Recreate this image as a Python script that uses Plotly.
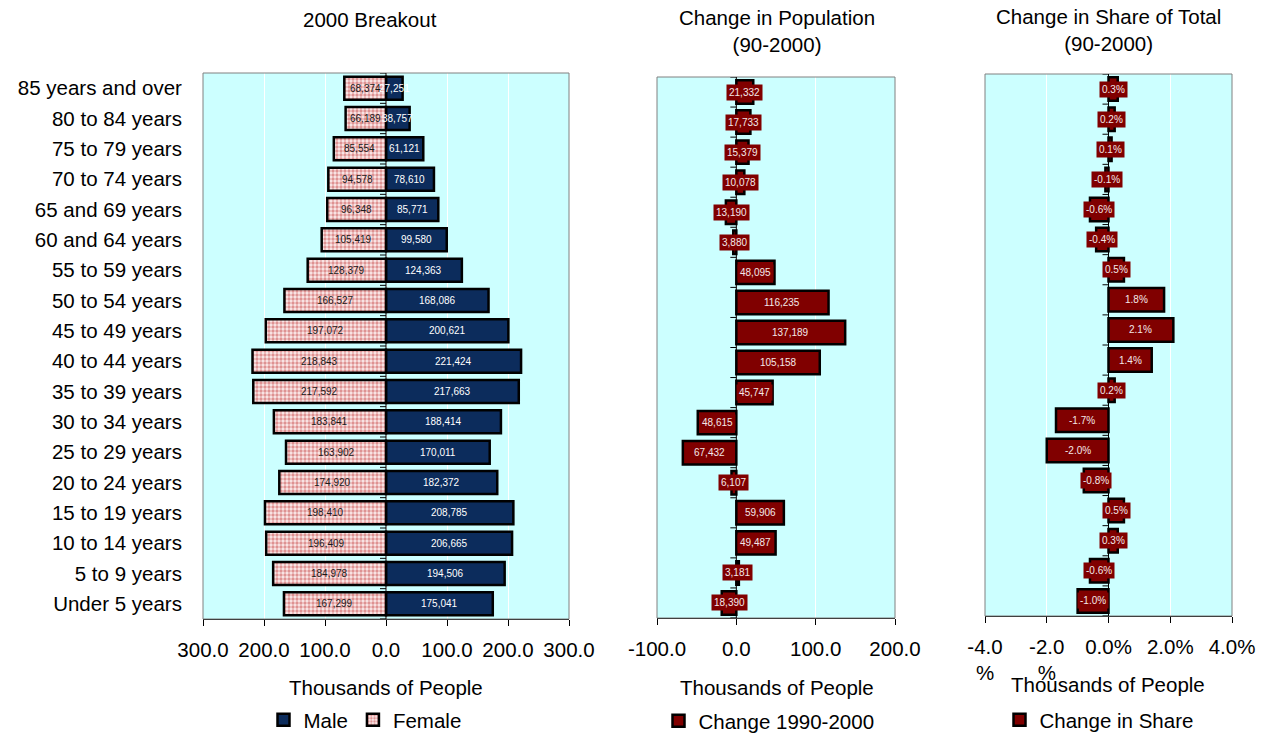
import plotly.graph_objects as go

# Age groups, bottom to top
age_groups = ["Under 5 years", "5 to 9 years", "10 to 14 years", "15 to 19 years",
              "20 to 24 years", "25 to 29 years", "30 to 34 years", "35 to 39 years",
              "40 to 44 years", "45 to 49 years", "50 to 54 years", "55 to 59 years",
              "60 and 64 years", "65 and 69 years", "70 to 74 years", "75 to 79 years",
              "80 to 84 years", "85 years and over"]

male_2000 = [175041, 194506, 206665, 208785, 182372, 170011, 188414, 217663, 221424,
             200621, 168086, 124363, 99580, 85771, 78610, 61121, 38757, 27251]
female_2000 = [167299, 184978, 196409, 198410, 174920, 163902, 183841, 217592, 218843,
               197072, 166527, 128379, 105419, 96348, 94578, 85554, 66189, 68374]
change_90_00 = [-18390, 3181, 49487, 59906, -6107, -67432, -48615, 45747, 105158,
                137189, 116235, 48095, -3880, -13190, 10078, 15379, 17733, 21332]
share_change = [-1.0, -0.6, 0.3, 0.5, -0.8, -2.0, -1.7, 0.2, 1.4,
                2.1, 1.8, 0.5, -0.4, -0.6, -0.1, 0.1, 0.2, 0.3]

pop_ticks = [-300, -200, -100, 0, 100, 200, 300]
pop_ticktext = ["300.0", "200.0", "100.0", "0.0", "100.0", "200.0", "300.0"]
chg_ticks = [-100, 0, 100, 200]
chg_ticktext = ["-100.0", "0.0", "100.0", "200.0"]
shr_ticks = [-4, -2, 0, 2, 4]
shr_ticktext = ["-4.0<br>%", "-2.0<br>%", "0.0%", "2.0%", "4.0%"]

W, H = 1262, 733
FONT = "Arial, Liberation Sans, sans-serif"
BIG = 20.5
BG = "#ccffff"
NAVY = "#0c2c5c"
MAROON = "#800000"


def px_x(p):
    return p / W


def px_y(p):
    return 1 - p / H


fig = go.Figure()

male_k = [v / 1000 for v in male_2000]
female_k = [-v / 1000 for v in female_2000]
change_k = [v / 1000 for v in change_90_00]

fig.add_trace(go.Bar(
    x=male_k, y=age_groups, orientation="h", name="Male", width=0.76,
    marker=dict(color=NAVY, line=dict(color="black", width=2.5)),
    xaxis="x", yaxis="y", legend="legend", hoverinfo="skip"))
fig.add_trace(go.Bar(
    x=female_k, y=age_groups, orientation="h", name="Female", width=0.76,
    marker=dict(color="#f8e6e6", line=dict(color="black", width=2.5),
                pattern=dict(shape=".", fgcolor="#c23a3a", bgcolor="#fbeaea",
                             size=4, solidity=0.55)),
    xaxis="x", yaxis="y", legend="legend", hoverinfo="skip"))
fig.add_trace(go.Bar(
    x=change_k, y=age_groups, orientation="h", name="Change 1990-2000", width=0.78,
    marker=dict(color=MAROON, line=dict(color="black", width=2.5)),
    xaxis="x2", yaxis="y2", legend="legend2", hoverinfo="skip"))
fig.add_trace(go.Bar(
    x=share_change, y=age_groups, orientation="h", name="Change in Share", width=0.78,
    marker=dict(color=MAROON, line=dict(color="black", width=2.5)),
    xaxis="x3", yaxis="y3", legend="legend3", hoverinfo="skip"))

annotations = []
# value labels inside the bars
for cat, m in zip(age_groups, male_2000):
    annotations.append(dict(x=m / 2000, y=cat, xref="x", yref="y", text=f"{m:,}",
                            showarrow=False, font=dict(family=FONT, size=10, color="white")))
for cat, f in zip(age_groups, female_2000):
    annotations.append(dict(x=-f / 2000, y=cat, xref="x", yref="y", text=f"{f:,}",
                            showarrow=False, font=dict(family=FONT, size=10, color="#1a1a1a")))
for cat, c in zip(age_groups, change_90_00):
    annotations.append(dict(x=c / 2000, y=cat, xref="x2", yref="y2", text=f"{abs(c):,}",
                            showarrow=False, bgcolor=MAROON, borderpad=2,
                            font=dict(family=FONT, size=10, color="#f4e8e8")))
for cat, s in zip(age_groups, share_change):
    annotations.append(dict(x=s / 2, y=cat, xref="x3", yref="y3", text=f"{s:.1f}%",
                            showarrow=False, bgcolor=MAROON, borderpad=2,
                            font=dict(family=FONT, size=10, color="#f4e8e8")))


# panel titles and axis titles
def paper_text(text, xp, yp):
    return dict(x=px_x(xp), y=px_y(yp), xref="paper", yref="paper", text=text,
                showarrow=False, xanchor="center", yanchor="middle",
                font=dict(family=FONT, size=BIG, color="black"))


annotations += [
    paper_text("2000 Breakout", 370, 20),
    paper_text("Change in Population<br>(90-2000)", 777, 31),
    paper_text("Change in Share of Total<br>(90-2000)", 1108, 30),
    paper_text("Thousands of People", 386, 687),
    paper_text("Thousands of People", 777, 687),
    paper_text("Thousands of People", 1108, 684),
]

shapes = []
for xa, ya in [("x", "y"), ("x2", "y2"), ("x3", "y3")]:
    # plot-area frame
    shapes.append(dict(type="rect", xref=f"{xa} domain", yref=f"{ya} domain",
                       x0=0, x1=1, y0=0, y1=1, line=dict(color="#808080", width=1),
                       layer="above"))
    # vertical axis at zero
    shapes.append(dict(type="line", xref=xa, yref=ya, x0=0, x1=0,
                       y0=-0.5, y1=len(age_groups) - 0.5,
                       line=dict(color="black", width=1), layer="above"))
    # category tick marks on the zero axis
    for i in range(len(age_groups) + 1):
        shapes.append(dict(type="line", xref=xa, yref=ya, xsizemode="pixel", xanchor=0,
                           x0=-6, x1=0, y0=i - 0.5, y1=i - 0.5,
                           line=dict(color="black", width=1), layer="above"))

xaxis_common = dict(showgrid=True, gridcolor="white", gridwidth=1, zeroline=False,
                    showline=True, linecolor="black", linewidth=1,
                    ticks="outside", ticklen=6, tickcolor="black",
                    tickfont=dict(family=FONT, size=BIG, color="black"),
                    ticklabelstandoff=6, fixedrange=True, automargin=False)
yaxis_common = dict(type="category", categoryorder="array", categoryarray=age_groups,
                    range=[-0.5, len(age_groups) - 0.5], showgrid=False,
                    zeroline=False, showline=False, fixedrange=True, automargin=False)

legend_common = dict(orientation="h", xanchor="center", yanchor="middle",
                     bgcolor="rgba(0,0,0,0)", font=dict(family=FONT, size=BIG),
                     itemwidth=30)

fig.update_layout(
    width=W, height=H, margin=dict(l=0, r=0, t=0, b=0, autoexpand=False),
    paper_bgcolor="white", plot_bgcolor=BG, barmode="overlay",
    font=dict(family=FONT, size=BIG, color="black"),
    xaxis=dict(xaxis_common, domain=[px_x(203), px_x(569)], range=[-300, 300],
               tickvals=pop_ticks, ticktext=pop_ticktext, anchor="y"),
    xaxis2=dict(xaxis_common, domain=[px_x(657), px_x(895)], range=[-100, 200],
                tickvals=chg_ticks, ticktext=chg_ticktext, anchor="y2"),
    xaxis3=dict(xaxis_common, domain=[px_x(985), px_x(1232)], range=[-4, 4],
                tickvals=shr_ticks, ticktext=shr_ticktext, anchor="y3"),
    yaxis=dict(yaxis_common, domain=[px_y(619), px_y(73)], anchor="x",
               showticklabels=True, ticks="outside", ticklen=16,
               tickcolor="rgba(0,0,0,0)",
               tickfont=dict(family=FONT, size=BIG, color="black")),
    yaxis2=dict(yaxis_common, domain=[px_y(618), px_y(77)], anchor="x2",
                showticklabels=False),
    yaxis3=dict(yaxis_common, domain=[px_y(616), px_y(74)], anchor="x3",
                showticklabels=False),
    legend=dict(legend_common, x=px_x(365), y=px_y(720)),
    legend2=dict(legend_common, x=px_x(769), y=px_y(721)),
    legend3=dict(legend_common, x=px_x(1099), y=px_y(720)),
    annotations=annotations,
    shapes=shapes,
    showlegend=True,
)

fig.write_html("out.html")
